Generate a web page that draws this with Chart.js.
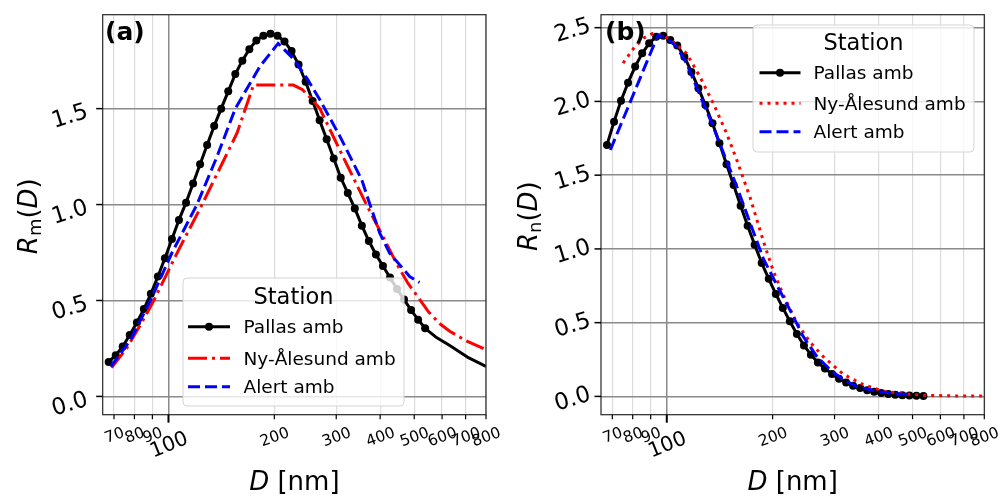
<!DOCTYPE html>
<html>
<head>
<meta charset="utf-8">
<script src="https://cdn.jsdelivr.net/npm/chart.js@4.4.1/dist/chart.umd.min.js"></script>
<style>
  body { margin: 0; background: #fff; }
  #wrap { position: relative; width: 1000px; height: 498px; }
  .panel { position: absolute; top: 0; width: 500px; height: 498px; }
</style>
</head>
<body>
<div id="wrap">
  <div class="panel" style="left:0"><canvas id="chartA" width="500" height="498"></canvas></div>
  <div class="panel" style="left:500px"><canvas id="chartB" width="500" height="498"></canvas></div>
</div>
<script>

// ---- axes
const xTickVals = [70, 80, 90, 100, 200, 300, 400, 500, 600, 700, 800];
const xTickLabels = ['70', '80', '90', '100', '200', '300', '400', '500', '600', '700', '800'];
const yTicksA = [0, 0.5, 1.0, 1.5];
const yTickLabelsA = ['0.0', '0.5', '1.0', '1.5'];
const yTicksB = [0, 0.5, 1.0, 1.5, 2.0, 2.5];
const yTickLabelsB = ['0.0', '0.5', '1.0', '1.5', '2.0', '2.5'];
const stations = ['Pallas amb', 'Ny-Ålesund amb', 'Alert amb'];
const legendTitle = 'Station';

// ---- Pallas (markers), shared diameters for both panels
const pallasD = [67.6, 70.8, 74.1, 77.6, 81.3, 85.1, 89.1, 93.3, 97.7, 102.3,
  107.1, 112.2, 117.5, 123.0, 128.8, 134.9, 141.2, 147.9, 154.9, 162.2,
  169.8, 177.8, 186.2, 195.0, 204.2, 213.8, 223.9, 234.4, 245.5, 257.0,
  269.1, 281.8, 295.1, 309.0, 323.6, 338.8, 354.8, 371.5, 389.0, 407.4,
  426.6, 446.7, 467.7, 489.8, 512.9, 537.0];
const pallasRm = [0.18, 0.215, 0.26, 0.32, 0.385, 0.455, 0.535, 0.625, 0.72, 0.82,
  0.92, 1.01, 1.11, 1.21, 1.31, 1.41, 1.50, 1.59, 1.68, 1.75,
  1.81, 1.855, 1.88, 1.89, 1.88, 1.85, 1.80, 1.73, 1.64, 1.54,
  1.44, 1.34, 1.24, 1.14, 1.06, 0.98, 0.89, 0.81, 0.74, 0.68,
  0.62, 0.56, 0.505, 0.45, 0.40, 0.355];
// Pallas Rm continues as a plain line past the last marker
const pallasExtD = [575.4, 631.0, 708.0, 800.0];
const pallasExtRm = [0.31, 0.265, 0.205, 0.156];
const pallasRn = [1.705, 1.863, 2.005, 2.127, 2.236, 2.326, 2.394, 2.439, 2.445, 2.417,
  2.38, 2.303, 2.20, 2.09, 1.975, 1.852, 1.717, 1.574, 1.434, 1.292,
  1.157, 1.028, 0.904, 0.797, 0.695, 0.60, 0.51, 0.423, 0.346, 0.283,
  0.230, 0.190, 0.152, 0.120, 0.095, 0.073, 0.057, 0.042, 0.032, 0.023,
  0.016, 0.012, 0.008, 0.006, 0.004, 0.003];

// ---- Ny-Ålesund
const nyDa = [68.9, 76.0, 86.1, 90.8, 106.9, 124.6, 156.6, 174.5, 226.5, 240.0,
  252.4, 269.6, 306.9, 365.6, 407.4, 444.6, 479.7, 511.7, 549.5, 590.2,
  631.0, 701.5, 800.0];
const nyRm = [0.15, 0.25, 0.42, 0.50, 0.764, 1.0, 1.372, 1.623, 1.623, 1.60,
  1.56, 1.50, 1.285, 1.0, 0.833, 0.695, 0.59, 0.52, 0.44, 0.38,
  0.34, 0.29, 0.243];
const nyDb = [75.1, 80.5, 86.0, 91.0, 97.0, 103.5, 113.8, 124.2, 135.5, 147.9,
  158.1, 172.5, 190.1, 200.9, 214.3, 234.2, 255.3, 278.6, 317.7, 362.2,
  413.0, 471.0, 537.0, 631.0, 800.0];
const nyRn = [2.26, 2.36, 2.43, 2.46, 2.45, 2.41, 2.326, 2.168, 1.988, 1.785,
  1.604, 1.35, 1.02, 0.85, 0.69, 0.50, 0.37, 0.27, 0.15, 0.08,
  0.035, 0.018, 0.008, 0.004, 0.002];

// ---- Alert
const alertDa = [68.5, 78.0, 88.9, 102.4, 120.5, 137.4, 154.9, 182.0, 205.1, 226.5,
  247.2, 269.8, 307.6, 354.8, 374.1, 399.0, 425.6, 485.3, 517.6];
const alertRm = [0.155, 0.295, 0.50, 0.75, 1.0, 1.25, 1.50, 1.72, 1.84, 1.76,
  1.66, 1.545, 1.354, 1.128, 1.0, 0.851, 0.747, 0.625, 0.594];
const alertDb = [69.1, 94.4, 99.8, 106.7, 113.8, 135.5, 158.1, 187.9, 205.4, 223.9,
  244.3, 267.1, 291.3, 317.7, 346.7, 395.4, 450.8, 497.7];
const alertRn = [1.671, 2.45, 2.428, 2.371, 2.259, 1.829, 1.423, 0.938, 0.757, 0.587,
  0.407, 0.271, 0.181, 0.113, 0.068, 0.034, 0.018, 0.012];


const FONT = '"DejaVu Sans", "Liberation Sans", sans-serif';
const DEG = Math.PI / 180;

function pts(xs, ys) {
  return xs.map((x, i) => ({ x: x, y: ys[i] }));
}

function fontOf(p, size) {
  return (p.it ? 'italic ' : '') + (p.sub ? Math.round(size * 0.7) : size) + 'px ' + FONT;
}

// mathtext-like label, centered on (0, baseline 0)
function drawMath(ctx, parts, size) {
  let total = 0;
  parts.forEach(p => { ctx.font = fontOf(p, size); p.w = ctx.measureText(p.t).width; total += p.w; });
  let x = -total / 2;
  ctx.textAlign = 'left';
  ctx.textBaseline = 'alphabetic';
  parts.forEach(p => {
    ctx.font = fontOf(p, size);
    ctx.fillText(p.t, x, p.sub ? size * 0.16 : 0);
    x += p.w;
  });
}

function extent(ctx, text, size, angle) {
  ctx.font = size + 'px ' + FONT;
  const w = ctx.measureText(text).width;
  const h = size * 0.73;
  const a = angle * DEG;
  return { wx: w * Math.cos(a) + h * Math.sin(a), hy: w * Math.sin(a) + h * Math.cos(a) };
}

function rotText(ctx, text, cx, cy, size, angle) {
  ctx.save();
  ctx.font = size + 'px ' + FONT;
  ctx.translate(cx, cy);
  ctx.rotate(-angle * DEG);
  ctx.textAlign = 'center';
  ctx.textBaseline = 'alphabetic';
  ctx.fillText(text, 0, size * 0.365);
  ctx.restore();
}

function roundRect(ctx, x, y, w, h, r) {
  ctx.beginPath();
  ctx.moveTo(x + r, y);
  ctx.arcTo(x + w, y, x + w, y + h, r);
  ctx.arcTo(x + w, y + h, x, y + h, r);
  ctx.arcTo(x, y + h, x, y, r);
  ctx.arcTo(x, y, x + w, y, r);
  ctx.closePath();
}

const decor = {
  id: 'decor',
  afterDatasetsDraw(chart, args, o) {
    const ctx = chart.ctx, L = o.legend;
    ctx.save();
    roundRect(ctx, L.x, L.y, L.w, L.h, 4);
    ctx.fillStyle = 'rgba(255,255,255,0.8)';
    ctx.fill();
    ctx.strokeStyle = '#d4d4d4';
    ctx.lineWidth = 1;
    ctx.stroke();

    ctx.fillStyle = '#000';
    ctx.font = '22.5px ' + FONT;
    ctx.textAlign = 'center';
    ctx.textBaseline = 'alphabetic';
    ctx.fillText(legendTitle, L.titleX, L.titleY + 22.5 * 0.365);

    chart.data.datasets.forEach((ds, i) => {
      const y = L.rows[i];
      ctx.save();
      ctx.strokeStyle = ds.borderColor;
      ctx.lineWidth = ds.borderWidth;
      ctx.setLineDash(ds.borderDash || []);
      ctx.lineCap = 'butt';
      ctx.beginPath();
      ctx.moveTo(L.x0, y);
      ctx.lineTo(L.x1, y);
      ctx.stroke();
      ctx.restore();
      if (ds.markerSize) {
        ctx.beginPath();
        ctx.arc((L.x0 + L.x1) / 2, y, ds.markerSize, 0, Math.PI * 2);
        ctx.fillStyle = ds.borderColor;
        ctx.fill();
      }
      ctx.fillStyle = '#000';
      ctx.font = '18.5px ' + FONT;
      ctx.textAlign = 'left';
      ctx.fillText(ds.label, L.tx, y + 18.5 * 0.365);
    });
    ctx.restore();
  },
  afterDraw(chart, args, o) {
    const ctx = chart.ctx, a = chart.chartArea;
    const xs = chart.scales.x, ys = chart.scales.y;
    ctx.save();

    // frame
    ctx.strokeStyle = '#262626';
    ctx.lineWidth = 1.2;
    ctx.strokeRect(a.left, a.top, a.right - a.left, a.bottom - a.top);

    ctx.fillStyle = '#000';
    ctx.strokeStyle = '#000';

    // x ticks
    xTickVals.forEach((v, i) => {
      const px = xs.getPixelForValue(v);
      const major = v === 100;
      ctx.lineWidth = major ? 2 : 1.2;
      ctx.beginPath();
      ctx.moveTo(px, a.bottom);
      ctx.lineTo(px, a.bottom + (major ? 8 : 4.5));
      ctx.stroke();
      const size = major ? 20.5 : 15.5;
      const ang = major ? 22 : 20;
      const e = extent(ctx, xTickLabels[i], size, ang);
      const top = a.bottom + (major ? 14.5 : 11);
      rotText(ctx, xTickLabels[i], px, top + e.hy / 2, size, ang);
    });

    // y ticks
    o.yTicks.forEach((v, i) => {
      const py = ys.getPixelForValue(v);
      ctx.lineWidth = 1.5;
      ctx.beginPath();
      ctx.moveTo(a.left - 6.5, py);
      ctx.lineTo(a.left, py);
      ctx.stroke();
      const e = extent(ctx, o.yLabels[i], 23, 17);
      rotText(ctx, o.yLabels[i], a.left - o.inkGap - e.wx / 2, py + o.dy, 23, 17);
    });

    // axis titles
    ctx.save();
    ctx.translate((a.left + a.right) / 2, 490);
    drawMath(ctx, [{ t: 'D', it: true }, { t: ' [nm]' }], 26);
    ctx.restore();

    ctx.save();
    ctx.translate(37, (a.top + a.bottom) / 2 + 1.5);
    ctx.rotate(-Math.PI / 2);
    drawMath(ctx, [{ t: 'R', it: true }, { t: o.sub, sub: true }, { t: '(' }, { t: 'D', it: true }, { t: ')' }], 26);
    ctx.restore();

    // panel letter
    ctx.font = 'bold 25px ' + FONT;
    ctx.textAlign = 'left';
    ctx.textBaseline = 'alphabetic';
    ctx.fillText(o.panel, 105, 39.5);

    ctx.restore();
  }
};
Chart.register(decor);


function makeChart(id, datasets, yMin, yMax, yTicks, padRight, yWidth, deco) {
  return new Chart(document.getElementById(id), {
    type: 'line',
    data: { datasets: datasets },
    options: {
      responsive: false,
      animation: false,
      devicePixelRatio: 1,
      events: [],
      layout: { padding: { left: 0, right: padRight, top: 14.7, bottom: 0 } },
      plugins: {
        legend: { display: false },
        tooltip: { enabled: false },
        decor: deco
      },
      scales: {
        x: {
          type: 'logarithmic',
          min: 65,
          max: 800,
          afterBuildTicks: s => { s.ticks = xTickVals.map(v => ({ value: v })); },
          afterFit: s => { s.height = 83.3; },
          ticks: { display: false },
          border: { display: false },
          grid: {
            drawTicks: false,
            color: c => (c.tick && c.tick.value === 100) ? '#8a8a8a' : '#dcdcdc',
            lineWidth: c => (c.tick && c.tick.value === 100) ? 1.5 : 1.2
          }
        },
        y: {
          type: 'linear',
          min: yMin,
          max: yMax,
          afterBuildTicks: s => { s.ticks = yTicks.map(v => ({ value: v })); },
          afterFit: s => { s.width = yWidth; },
          ticks: { display: false },
          border: { display: false },
          grid: { drawTicks: false, color: '#8a8a8a', lineWidth: 1.5 }
        }
      }
    }
  });
}


const pallasStyle = {
  borderColor: '#000000',
  borderWidth: 3,
  pointBackgroundColor: '#000000',
  pointBorderWidth: 0,
  pointHoverRadius: 0,
  markerSize: 4,
  borderJoinStyle: 'round',
  tension: 0,
  order: 3
};

// panel (a)
makeChart('chartA', [
  Object.assign({
    label: stations[0],
    data: pts(pallasD, pallasRm).concat(pts(pallasExtD, pallasExtRm)),
    pointRadius: pallasD.map(() => 4).concat(pallasExtD.map(() => 0))
  }, pallasStyle),
  {
    label: stations[1],
    data: pts(nyDa, nyRm),
    borderColor: '#ff0000',
    borderWidth: 3,
    borderDash: [19, 5, 3, 5],
    pointRadius: 0,
    tension: 0,
    order: 2
  },
  {
    label: stations[2],
    data: pts(alertDa, alertRm),
    borderColor: '#0000ff',
    borderWidth: 3,
    borderDash: [12, 5],
    pointRadius: 0,
    tension: 0,
    order: 1
  }
], -0.0953, 1.9896, yTicksA, 14, 102.7, {
  yTicks: yTicksA, yLabels: yTickLabelsA, inkGap: 13.5, dy: 6, sub: 'm', panel: '(a)',
  legend: { x: 183, y: 278, w: 221, h: 128, titleX: 293.5, titleY: 296,
    rows: [326.7, 358.3, 386.7], x0: 188, x1: 230, tx: 243.5 }
});

// panel (b)
makeChart('chartB', [
  Object.assign({
    label: stations[0],
    data: pts(pallasD, pallasRn),
    pointRadius: 4
  }, pallasStyle),
  {
    label: stations[1],
    data: pts(nyDb, nyRn),
    borderColor: '#ff0000',
    borderWidth: 3,
    borderDash: [3, 5],
    borderCapStyle: 'butt',
    pointRadius: 0,
    tension: 0,
    order: 2
  },
  {
    label: stations[2],
    data: pts(alertDb, alertRn),
    borderColor: '#0000ff',
    borderWidth: 3,
    borderDash: [12, 5],
    pointRadius: 0,
    tension: 0,
    order: 1
  }
], -0.124, 2.588, yTicksB, 15.7, 101, {
  yTicks: yTicksB, yLabels: yTickLabelsB, inkGap: 9, dy: 1, sub: 'n', panel: '(b)',
  legend: { x: 253, y: 25, w: 221, h: 127, titleX: 363.5, titleY: 41.7,
    rows: [72.7, 103.3, 131.7], x0: 259.5, x1: 300.5, tx: 313.5 }
});

</script>
</body>
</html>
